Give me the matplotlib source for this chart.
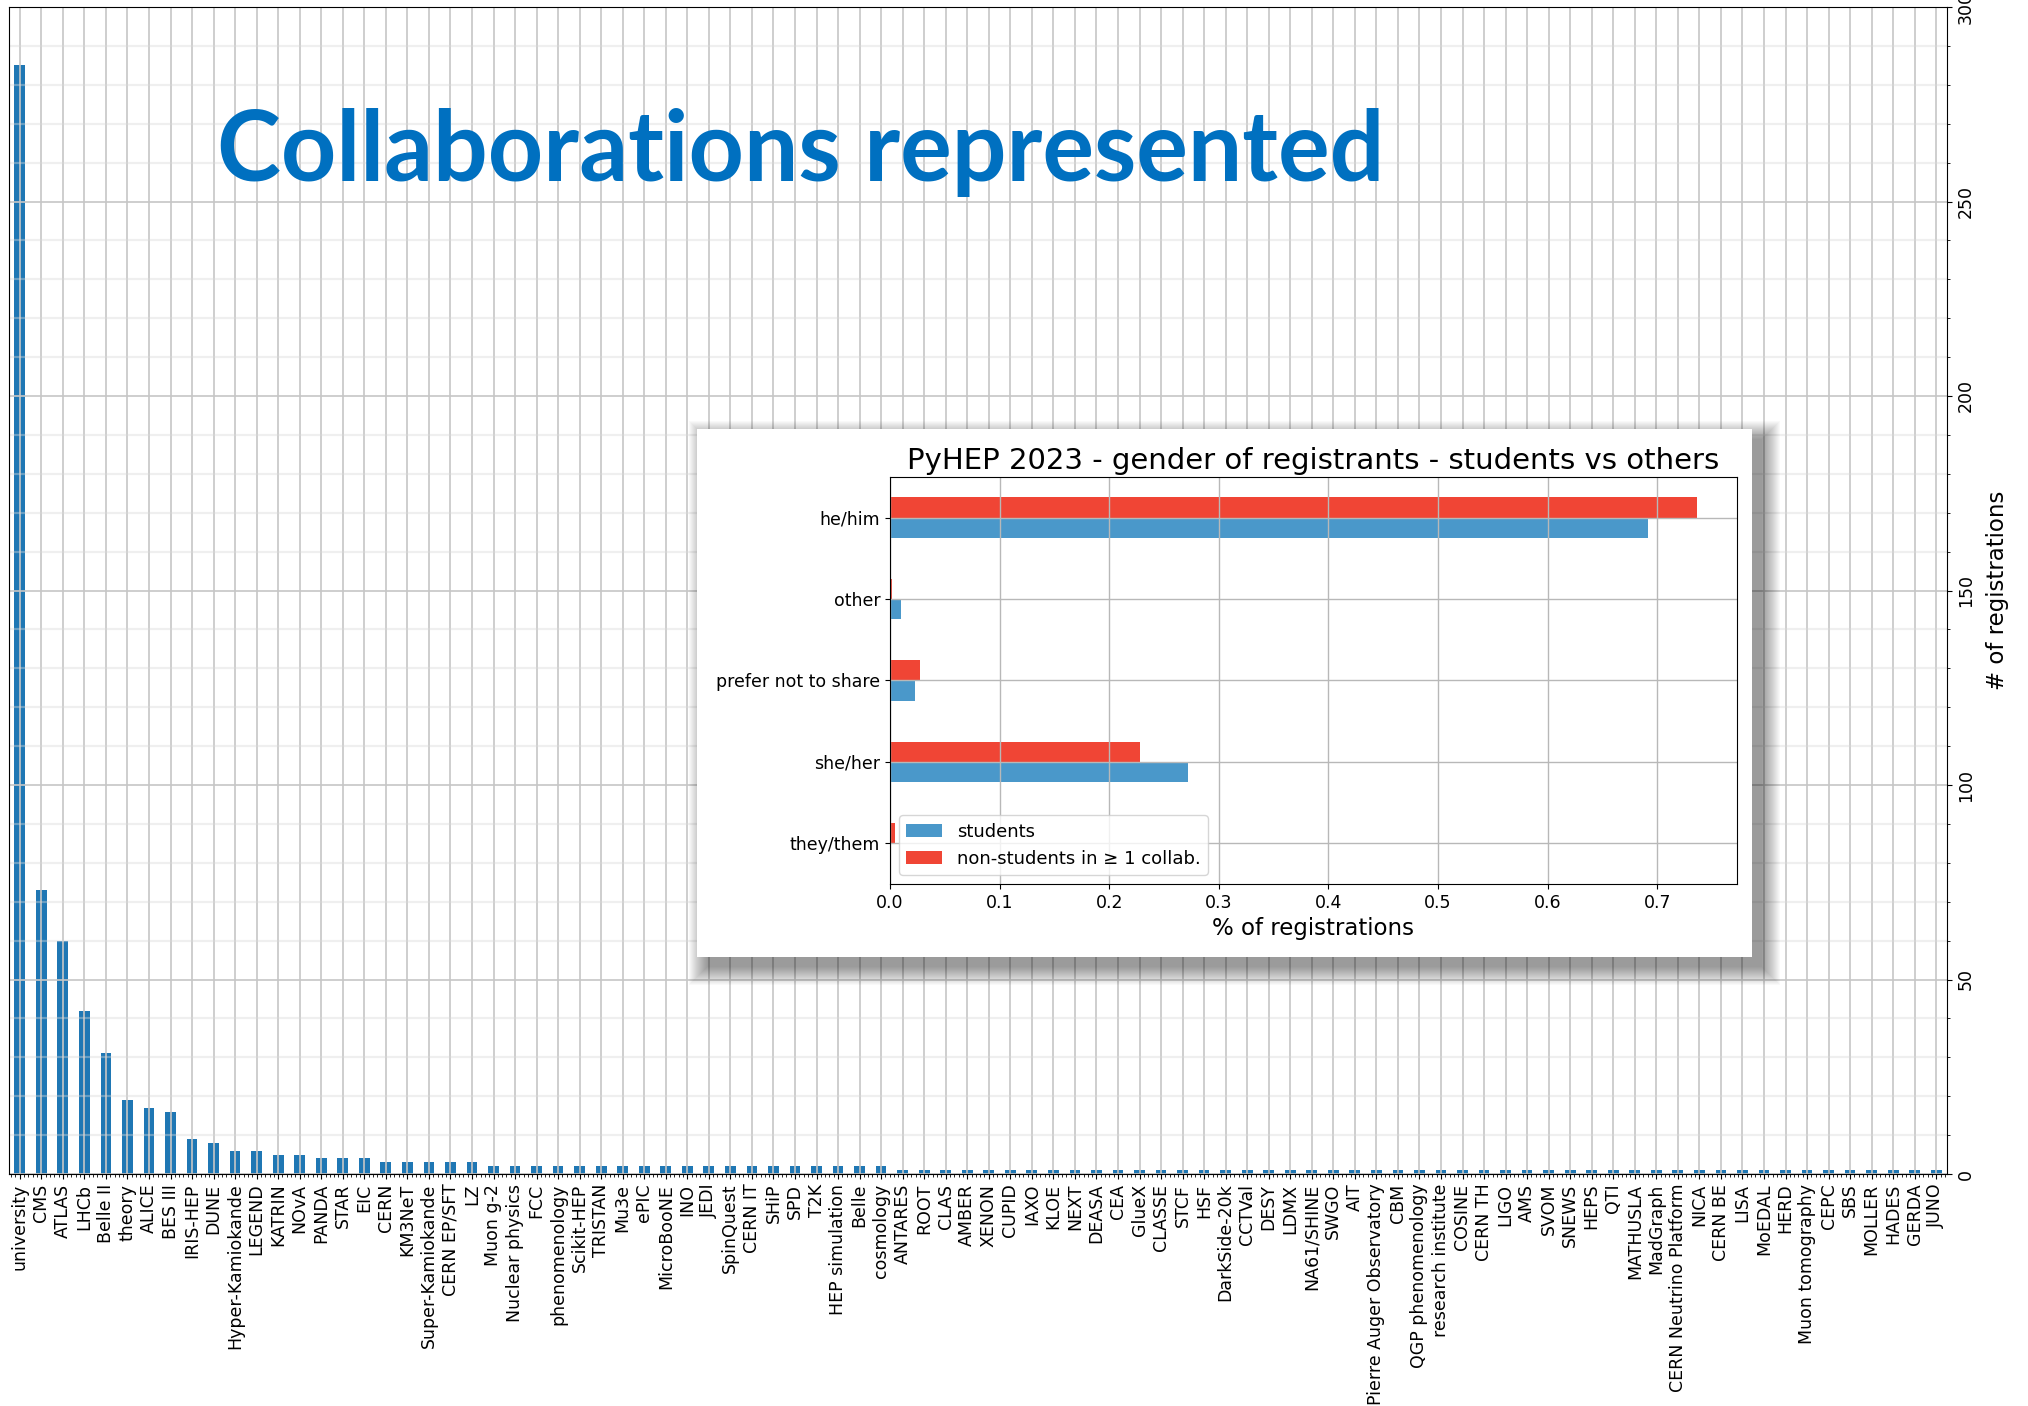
import matplotlib
matplotlib.use("Agg")
import matplotlib.pyplot as plt
from matplotlib.patches import Rectangle
from matplotlib.ticker import AutoMinorLocator, MultipleLocator
import numpy as np

# ---------------- data ----------------
collabs = ["university", "CMS", "ATLAS", "LHCb", "Belle II", "theory", "ALICE", "BES III",
           "IRIS-HEP", "DUNE", "Hyper-Kamiokande", "LEGEND", "KATRIN", "NOvA", "PANDA", "STAR",
           "EIC", "CERN", "KM3NeT", "Super-Kamiokande", "CERN EP/SFT", "LZ", "Muon g-2",
           "Nuclear physics", "FCC", "phenomenology", "Scikit-HEP", "TRISTAN", "Mu3e", "ePIC",
           "MicroBooNE", "INO", "JEDI", "SpinQuest", "CERN IT", "SHiP", "SPD", "T2K",
           "HEP simulation", "Belle", "cosmology", "ANTARES", "ROOT", "CLAS", "AMBER", "XENON",
           "CUPID", "IAXO", "KLOE", "NEXT", "DEASA", "CEA", "GlueX", "CLASSE", "STCF", "HSF",
           "DarkSide-20k", "CCTVal", "DESY", "LDMX", "NA61/SHINE", "SWGO", "AIT",
           "Pierre Auger Observatory", "CBM", "QGP phenomenology", "research institute",
           "COSINE", "CERN TH", "LIGO", "AMS", "SVOM", "SNEWS", "HEPS", "QTI", "MATHUSLA",
           "MadGraph", "CERN Neutrino Platform", "NICA", "CERN BE", "LISA", "MoEDAL", "HERD",
           "Muon tomography", "CEPC", "SBS", "MOLLER", "HADES", "GERDA", "JUNO"]
counts = [285, 73, 60, 42, 31, 19, 17, 16, 9, 8, 6, 6, 5, 5, 4, 4, 4, 3, 3, 3, 3, 3,
          2, 2, 2, 2, 2, 2, 2, 2, 2, 2, 2, 2, 2, 2, 2, 2, 2, 2, 2,
          1, 1, 1, 1, 1, 1, 1, 1, 1, 1, 1, 1, 1, 1, 1, 1, 1, 1, 1, 1,
          1, 1, 1, 1, 1, 1, 1, 1, 1, 1, 1, 1, 1, 1, 1, 1, 1, 1, 1, 1,
          1, 1, 1, 1, 1, 1, 1, 1, 1]

pronouns = ["they/them", "she/her", "prefer not to share", "other", "he/him"]
students = [0.0, 0.272, 0.023, 0.010, 0.692]
non_students = [0.005, 0.228, 0.027, 0.002, 0.736]
series_labels = ["students", "non-students in \u2265 1 collab."]

title_text = "Collaborations represented"
inset_title = "PyHEP 2023 - gender of registrants - students vs others"

# ---------------- figure ----------------
W, H = 2028, 1406
fig = plt.figure(figsize=(W / 100, H / 100), dpi=100)

def fx(px):
    return px / W

def fy(py):
    return 1 - py / H

L, R, T, B = 9, 1947, 7, 1174
ax = fig.add_axes([fx(L), fy(B), fx(R - L), (B - T) / H])
x = np.arange(len(collabs))
ax.bar(x, counts, width=0.5, color="#1f77b4")
ax.set_xlim(-0.5, len(collabs) - 0.5)
ax.set_ylim(0, 300)
ax.set_xticks(x)
ax.set_xticklabels(collabs, rotation=90, fontsize=12.5)
ax.yaxis.tick_right()
ax.yaxis.set_label_position("right")
ax.yaxis.set_major_locator(MultipleLocator(50))
ax.yaxis.set_minor_locator(MultipleLocator(10))
ax.xaxis.set_minor_locator(AutoMinorLocator(5))
ax.tick_params(axis="y", which="both", left=False, right=True, labelsize=12.5,
               labelrotation=90)
for lab in ax.get_yticklabels():
    lab.set_va("center")
ax.set_ylabel("# of registrations", fontsize=16.5, labelpad=8)
ax.grid(True, which="major", color="#c6c6c6", linewidth=1.2)
ax.grid(True, which="minor", axis="y", color="#d8d8d8", alpha=0.4, linewidth=1.6)

# ---------------- title ----------------
fig.text(fx(217), fy(181), title_text, fontsize=69.5, fontweight="bold",
         family=["Lato", "DejaVu Sans"], color="#0070C0", va="baseline", ha="left",
         zorder=6)

# ---------------- inset panel with shadow ----------------
bx0, by0, bx1, by1 = 697, 429, 1752, 957
for r in range(18, -1, -1):
    off = 10
    fig.patches.append(Rectangle((fx(bx0 + off - r), fy(by1 + off + r)),
                                 fx(bx1 - bx0 + 2 * r), (by1 - by0 + 2 * r) / H,
                                 transform=fig.transFigure, facecolor="#000000",
                                 edgecolor="none", alpha=0.022, zorder=2))
fig.patches.append(Rectangle((fx(bx0), fy(by1)), fx(bx1 - bx0), (by1 - by0) / H,
                             transform=fig.transFigure, facecolor="white",
                             edgecolor="none", zorder=3))

iL, iR, iT, iB = 890, 1737, 477, 884
ax2 = fig.add_axes([fx(iL), fy(iB), fx(iR - iL), (iB - iT) / H], zorder=4)
yy = np.arange(len(pronouns))
ax2.barh(yy - 0.125, students, height=0.25, color="#4a98ca", label=series_labels[0])
ax2.barh(yy + 0.125, non_students, height=0.25, color="#f04535", label=series_labels[1])
ax2.set_ylim(-0.5, len(pronouns) - 0.5)
ax2.set_xlim(0, max(max(students), max(non_students)) * 1.05)
ax2.set_yticks(yy)
ax2.set_yticklabels(pronouns)
ax2.tick_params(labelsize=12.5)
ax2.grid(True, color="#b8b8b8", linewidth=1.0)
ax2.set_xlabel("% of registrations", fontsize=16.5)
ax2.set_title(inset_title, fontsize=21)
ax2.legend(loc="lower left", fontsize=13)

fig.savefig("out.png", dpi=100)
